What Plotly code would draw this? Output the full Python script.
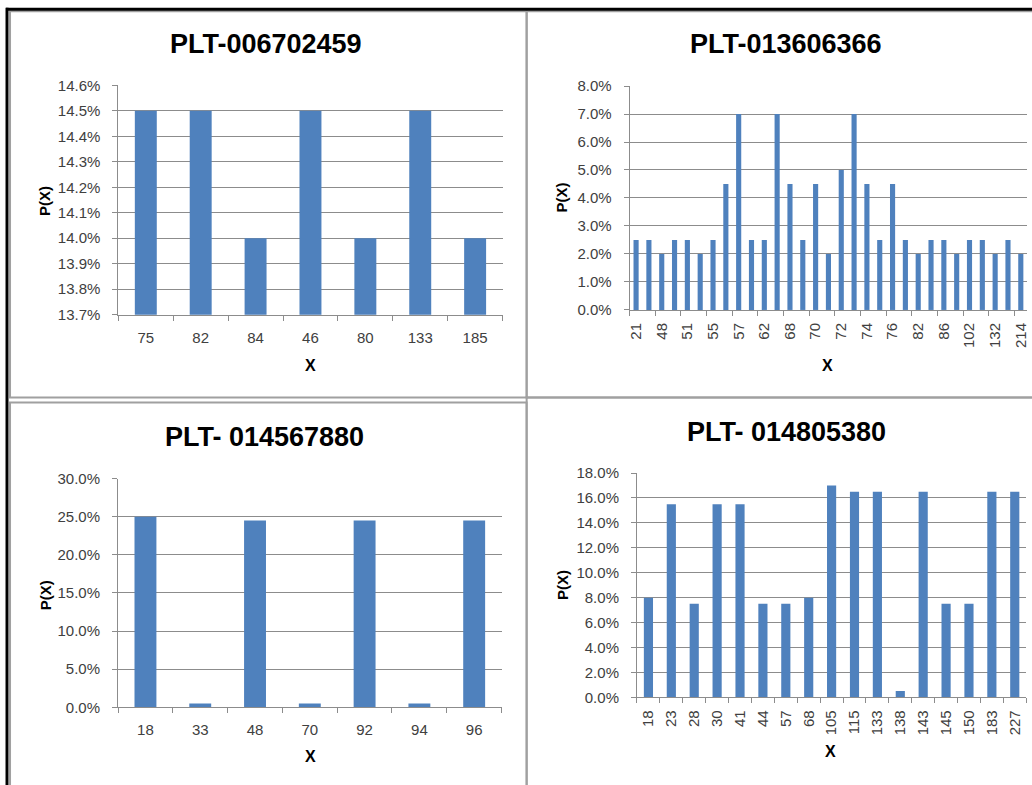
import plotly.graph_objects as go

W, H = 1032, 785

# ---------------- data ----------------
tl_title = "PLT-006702459"
tl_x = ["75", "82", "84", "46", "80", "133", "185"]
tl_p = [0.145, 0.145, 0.140, 0.145, 0.140, 0.145, 0.140]

tr_title = "PLT-013606366"
tr_x = ["21", "33", "48", "50", "51", "53", "55", "56", "57", "60", "62", "65", "68", "69", "70", "71",
        "72", "73", "74", "75", "76", "80", "82", "84", "86", "94", "102", "115", "132", "150", "214"]
tr_p = [0.025, 0.025, 0.020, 0.025, 0.025, 0.020, 0.025, 0.045, 0.070, 0.025, 0.025, 0.070, 0.045, 0.025,
        0.045, 0.020, 0.050, 0.070, 0.045, 0.025, 0.045, 0.025, 0.020, 0.025, 0.025, 0.020, 0.025, 0.025,
        0.020, 0.025, 0.020]
tr_shown = ["21", "48", "51", "55", "57", "62", "68", "70", "72", "74", "76", "82", "86", "102", "132", "214"]

bl_title = "PLT- 014567880"
bl_x = ["18", "33", "48", "70", "92", "94", "96"]
bl_p = [0.250, 0.005, 0.245, 0.005, 0.245, 0.005, 0.245]

br_title = "PLT- 014805380"
br_x = ["18", "23", "28", "30", "41", "44", "57", "68", "105", "115", "133", "138", "143", "145", "150",
        "183", "227"]
br_p = [0.080, 0.155, 0.075, 0.155, 0.155, 0.075, 0.075, 0.080, 0.170, 0.165, 0.165, 0.005, 0.165,
        0.075, 0.075, 0.165, 0.165]

# ---------------- style ----------------
BAR = "#4F81BD"
GRID = "#8C8C8C"
TICKC = "#404040"
FONT = "Liberation Sans"


def px(x):
    # small compensation for the horizontal fit seen in the rendered screenshot
    return ((x - 3) / 0.993) / W


def py(y):
    # compensation for the vertical fit seen in the rendered screenshot
    return 1 - ((y - 7.84) / 0.98) / H


fig = go.Figure()

panels = [
    dict(x=tl_x, y=tl_p, title=tl_title, ax="", xd=(118, 501), yd=(84.3, 314), yr=(0.137, 0.146), dt=0.001,
         tpos=(265, 43), ylab=(45, 200), xlab=(310, 365), angle=0, shown=None, xso=9),
    dict(x=tr_x, y=tr_p, title=tr_title, ax="2", xd=(627.7, 1024), yd=(85, 309.3), yr=(0, 0.08), dt=0.01,
         tpos=(784, 43), ylab=(560, 197), xlab=(825, 365), angle=-90, shown=tr_shown, xso=6),
    dict(x=bl_x, y=bl_p, title=bl_title, ax="3", xd=(117.7, 500), yd=(478.3, 707.3), yr=(0, 0.30), dt=0.05,
         tpos=(264, 437), ylab=(45, 595), xlab=(310, 757), angle=0, shown=None, xso=9),
    dict(x=br_x, y=br_p, title=br_title, ax="4", xd=(635, 1023), yd=(472.7, 697.3), yr=(0, 0.18), dt=0.02,
         tpos=(784, 432), ylab=(560, 585), xlab=(828, 752), angle=-90, shown=None, xso=6),
]

annotations = []
for p in panels:
    fig.add_trace(go.Bar(x=p["x"], y=p["y"], marker=dict(color=BAR, line=dict(width=0)),
                         xaxis="x" + p["ax"], yaxis="y" + p["ax"], showlegend=False,
                         hovertemplate="X=%{x}<br>P(X)=%{y:.1%}<extra></extra>"))
    xa = dict(domain=[px(p["xd"][0]), px(p["xd"][1])], anchor="y" + p["ax"], type="category",
              showgrid=False, showline=True, linecolor=GRID, linewidth=1,
              ticks="outside", ticklen=5, tickcolor=GRID, tickson="boundaries",
              tickfont=dict(family=FONT, size=15, color=TICKC), tickangle=p["angle"],
              ticklabelstandoff=p["xso"], fixedrange=True)
    if p["shown"] is not None:
        xa["tickmode"] = "array"
        xa["tickvals"] = p["shown"]
        xa["ticktext"] = p["shown"]
    ya = dict(domain=[py(p["yd"][1]), py(p["yd"][0])], anchor="x" + p["ax"], range=list(p["yr"]),
              dtick=p["dt"], tick0=0, tickformat=".1%", showgrid=True, gridcolor=GRID, gridwidth=1,
              showline=True, linecolor=GRID, linewidth=1, ticks="outside", ticklen=5, tickcolor=GRID,
              tickfont=dict(family=FONT, size=15, color=TICKC), zeroline=False, fixedrange=True,
              ticklabelstandoff=9)
    fig.update_layout(**{"xaxis" + p["ax"]: xa, "yaxis" + p["ax"]: ya})
    annotations.append(dict(text="<b>" + p["title"] + "</b>", x=px(p["tpos"][0]), y=py(p["tpos"][1]),
                            xref="paper", yref="paper", showarrow=False, xanchor="center", yanchor="middle",
                            font=dict(family=FONT, size=27, color="black")))
    annotations.append(dict(text="<b>P(X)</b>", x=px(p["ylab"][0]), y=py(p["ylab"][1]), textangle=-90,
                            xref="paper", yref="paper", showarrow=False, xanchor="center", yanchor="middle",
                            font=dict(family=FONT, size=15, color="black")))
    annotations.append(dict(text="<b>X</b>", x=px(p["xlab"][0]), y=py(p["xlab"][1]),
                            xref="paper", yref="paper", showarrow=False, xanchor="center", yanchor="middle",
                            font=dict(family=FONT, size=16, color="black")))

shapes = []
PB = "#A0A0A0"
for (x0, y0, x1, y1) in [(10, 10, 525, 397), (525, 10, 1040, 397), (10, 402, 525, 800), (525, 397, 1040, 800)]:
    shapes.append(dict(type="rect", xref="paper", yref="paper", x0=px(x0), x1=px(x1), y0=py(y1), y1=py(y0),
                       line=dict(color=PB, width=2), fillcolor="rgba(0,0,0,0)", layer="above"))
shapes.append(dict(type="line", xref="paper", yref="paper", x0=px(6), x1=px(1040), y0=py(8), y1=py(8),
                   line=dict(color="black", width=3)))
shapes.append(dict(type="line", xref="paper", yref="paper", x0=px(7), x1=px(7), y0=py(6.5), y1=py(800),
                   line=dict(color="black", width=3)))

fig.update_layout(width=W, height=H, margin=dict(l=0, r=0, t=0, b=0), bargap=0.6,
                  plot_bgcolor="white", paper_bgcolor="white", annotations=annotations, shapes=shapes,
                  font=dict(family=FONT))

post = ("document.documentElement.style.margin='0';document.body.style.margin='0';"
        "document.body.style.overflow='hidden';document.documentElement.style.overflow='hidden';"
        "var gd=document.getElementById('{plot_id}');gd.style.position='fixed';gd.style.left='0px';"
        "gd.style.top='0px';")
fig.write_html("out.html", post_script=post, config={"displayModeBar": False})
